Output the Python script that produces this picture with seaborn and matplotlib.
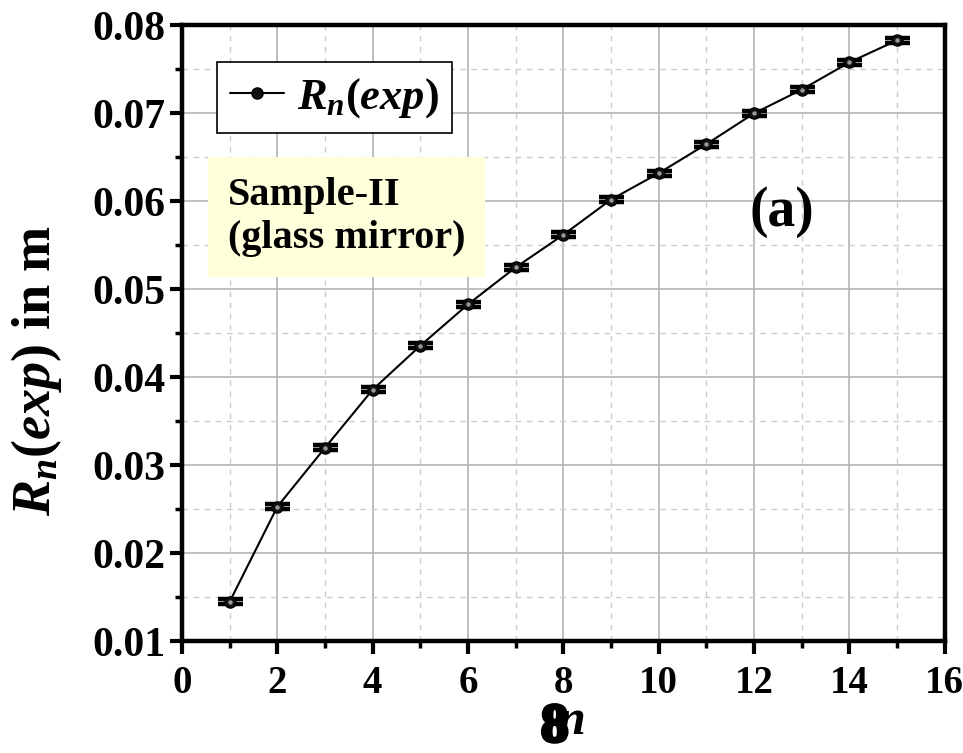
import matplotlib
matplotlib.use("Agg")
import matplotlib.pyplot as plt
import matplotlib.patheffects as pe
import seaborn as sns
import numpy as np
import pandas as pd
from matplotlib.ticker import MultipleLocator

n_vals = [1, 2, 3, 4, 5, 6, 7, 8, 9, 10, 11, 12, 13, 14, 15]
r_exp = [0.0145, 0.0253, 0.0320, 0.0386, 0.0436, 0.0483, 0.0525, 0.0562,
         0.0602, 0.0632, 0.0665, 0.0700, 0.0727, 0.0758, 0.0783]
r_err = [0.0003] * 15

x_ticks = [0, 2, 4, 6, 8, 10, 12, 14, 16]
y_ticks = [0.01, 0.02, 0.03, 0.04, 0.05, 0.06, 0.07, 0.08]
y_tick_labels = ["0.01", "0.02", "0.03", "0.04", "0.05", "0.06", "0.07", "0.08"]

sns.set_theme(style="white")
plt.rcParams['font.family'] = ['Liberation Serif', 'DejaVu Serif']
plt.rcParams['mathtext.fontset'] = 'custom'
plt.rcParams['mathtext.rm'] = 'Liberation Serif:bold'
plt.rcParams['mathtext.it'] = 'Liberation Serif:bold:italic'
plt.rcParams['mathtext.bf'] = 'Liberation Serif:bold'
for k in ['text.color', 'axes.labelcolor', 'xtick.color', 'ytick.color']:
    plt.rcParams[k] = 'black'

df = pd.DataFrame({"n": n_vals, "R": r_exp, "err": r_err})

fig = plt.figure(figsize=(9.63, 7.53), dpi=100)
ax = fig.add_axes([0.189, 0.1483, 0.792, 0.818])

ax.set_axisbelow(True)
ax.grid(True, which="major", color="#b4b4b4", linestyle="-", linewidth=1.2)
ax.grid(True, which="minor", color="#cccccc", linestyle=(0, (4, 4)), linewidth=1.0)

ax.errorbar(df["n"], df["R"], yerr=df["err"], fmt="none", ecolor="black",
            elinewidth=3, capsize=9, capthick=3.2, zorder=3)
sns.lineplot(data=df, x="n", y="R", ax=ax, color="black", linewidth=1.5,
             marker="o", markersize=8, markerfacecolor="#111111",
             markeredgecolor="black", markeredgewidth=1.0,
             label=r"$R_{n}(exp)$", zorder=4)
ax.plot(df["n"], df["R"], linestyle="none", marker="o", markersize=2.2,
        color="#9a9a9a", zorder=5)

ax.set_xlim(0, 16)
ax.set_ylim(0.01, 0.08)
ax.set_xticks(x_ticks)
ax.set_yticks(y_ticks)
ax.set_yticklabels(y_tick_labels)
ax.xaxis.set_minor_locator(MultipleLocator(1))
ax.yaxis.set_minor_locator(MultipleLocator(0.005))

ax.tick_params(axis="both", which="major", direction="out", length=9, width=3,
               labelsize=30, color="black", bottom=True, left=True)
ax.tick_params(axis="x", which="major", pad=8, labelsize=28)
ax.tick_params(axis="y", which="major", pad=3)
ax.tick_params(axis="both", which="minor", direction="out", length=5, width=2.5,
               color="black", bottom=True, left=True)
for lab in ax.get_xticklabels() + ax.get_yticklabels():
    lab.set_fontweight("bold")

for s in ax.spines.values():
    s.set_color("black")
    s.set_linewidth(3.2)

ax.set_xlabel("")
ax.set_ylabel(r"$R_{n}(exp)$ in m", fontsize=39, fontweight="bold")
ax.yaxis.set_label_coords(-0.155, 0.44)

# x label (overlapping glyphs as in reference)
fig.text(0.576, 0.033, "8", fontsize=39, fontweight="bold", ha="center", va="center",
         path_effects=[pe.withStroke(linewidth=3, foreground="black")])
fig.text(0.594, 0.041, "n", fontsize=36, fontweight="bold", fontstyle="italic",
         ha="center", va="center")

leg = ax.legend(loc="upper left", bbox_to_anchor=(0.046, 0.94), fontsize=32,
                frameon=True, fancybox=False, handlelength=1.2, handletextpad=0.3,
                borderpad=0.3, borderaxespad=0)
leg.get_frame().set_edgecolor("black")
leg.get_frame().set_linewidth(1.2)
leg.get_frame().set_alpha(1)

ax.text(0.06, 0.689, "Sample-II\n(glass mirror)", transform=ax.transAxes,
        fontsize=29, fontweight="bold", ha="left", va="center", linespacing=1.2,
        bbox=dict(boxstyle="square,pad=0.5", facecolor="#ffffdc", edgecolor="none"),
        zorder=6)

ax.text(0.786, 0.697, "(a)", transform=ax.transAxes, fontsize=40,
        fontweight="bold", ha="center", va="center", zorder=6)

fig.savefig("out.png", dpi=100)
